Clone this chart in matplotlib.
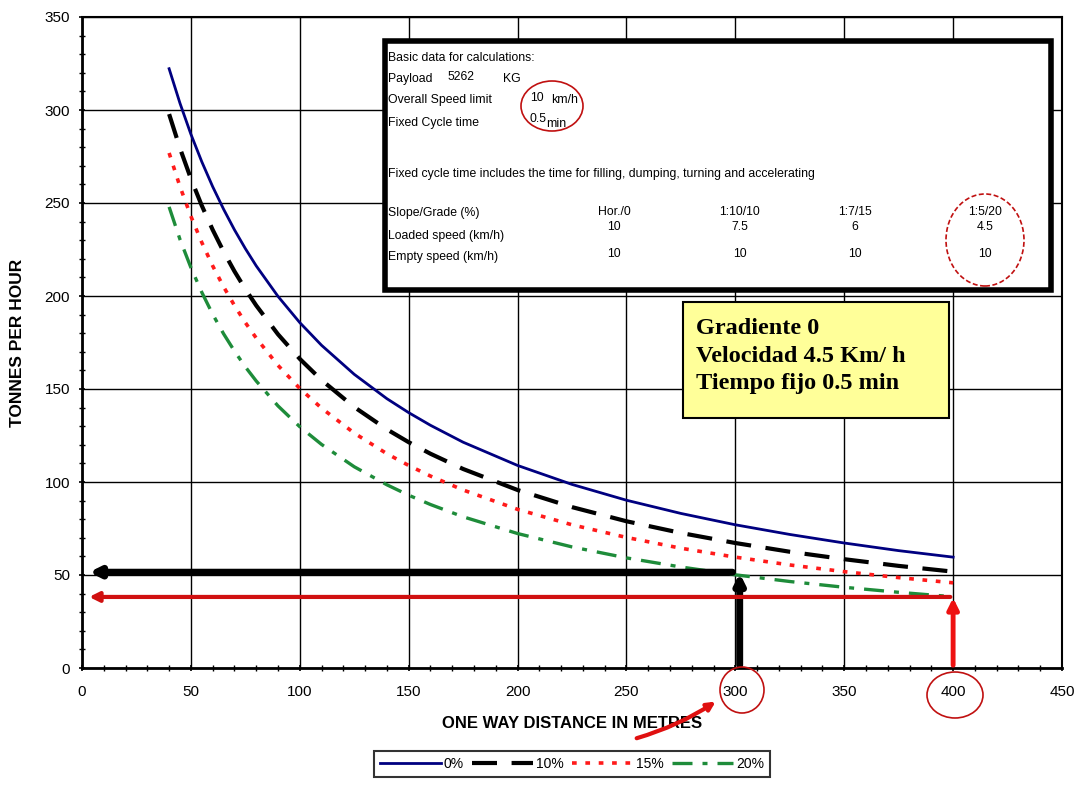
import matplotlib
matplotlib.use("Agg")
import matplotlib.pyplot as plt
from matplotlib.patches import Rectangle, Ellipse, FancyArrowPatch

# ---------------- data ----------------
distance = [40, 45, 50, 55, 60, 65, 70, 75, 80, 90, 100, 110, 125, 140, 150, 160, 175,
            200, 225, 250, 275, 300, 325, 350, 375, 400]
tph_0 = [322.2, 303.6, 287.0, 272.2, 258.8, 246.7, 235.6, 225.5, 216.2, 199.8, 185.7, 173.5,
         157.9, 144.8, 137.3, 130.5, 121.4, 108.9, 98.7, 90.2, 83.1, 77.0, 71.8, 67.2, 63.1, 59.6]
tph_10 = [297.8, 279.4, 263.1, 248.6, 235.6, 223.9, 213.3, 203.7, 194.9, 179.4, 166.2, 154.8,
          140.3, 128.3, 121.4, 115.2, 107.0, 95.7, 86.5, 78.9, 72.6, 67.2, 62.5, 58.5, 54.9, 51.8]
tph_15 = [276.9, 258.8, 242.9, 228.8, 216.2, 205.0, 194.9, 185.7, 177.4, 162.7, 150.3, 139.7,
          126.3, 115.2, 108.9, 103.2, 95.7, 85.3, 77.0, 70.2, 64.4, 59.6, 55.4, 51.8, 48.6, 45.8]
tph_20 = [247.9, 230.4, 215.3, 202.0, 190.2, 179.7, 170.4, 161.9, 154.3, 140.9, 129.7, 120.2,
          108.2, 98.5, 92.9, 87.9, 81.3, 72.3, 65.1, 59.2, 54.3, 50.1, 46.5, 43.4, 40.7, 38.3]
series_labels = ["0%", "10%", "15%", "20%"]

x_ticks = [0, 50, 100, 150, 200, 250, 300, 350, 400, 450]
y_ticks = [0, 50, 100, 150, 200, 250, 300, 350]

# annotation arrows (reading examples)
black_x, black_y = 302, 51.5
red_x, red_y = 400, 38.2

grades = ["Hor./0", "1:10/10", "1:7/15", "1:5/20"]
loaded = ["10", "7.5", "6", "4.5"]
empty = ["10", "10", "10", "10"]
note_lines = ["Gradiente 0", "Velocidad 4.5 Km/ h", "Tiempo fijo 0.5 min"]

W, H = 1085, 785
plt.rcParams['font.family'] = ['Liberation Sans', 'DejaVu Sans']
fig = plt.figure(figsize=(W / 100, H / 100), dpi=100)


def fx(px):
    return px / W


def fy(py):
    return 1 - py / H


ax = fig.add_axes([fx(82), fy(668), fx(1062) - fx(82), fy(17) - fy(668)])
ax.set_xlim(0, 450)
ax.set_ylim(0, 350)
ax.set_xticks(x_ticks)
ax.set_yticks(y_ticks)
ax.set_xticks(range(0, 451, 10), minor=True)
ax.set_yticks(range(0, 351, 10), minor=True)
ax.grid(True, which='major', color='black', lw=1.0)
ax.tick_params(axis='both', which='major', labelsize=11, length=5, width=1.2,
               direction='inout', colors='black')
ax.tick_params(axis='both', which='minor', length=4, width=1.0, direction='inout')
ax.tick_params(axis='x', pad=10)
ax.tick_params(axis='y', pad=6)
for sp in ax.spines.values():
    sp.set_linewidth(1.5)
ax.spines['left'].set_linewidth(2.0)
ax.spines['bottom'].set_linewidth(2.0)

ax.set_ylabel("TONNES PER HOUR", fontsize=12.5, fontweight='bold', labelpad=14)
ax.set_xlabel("ONE WAY DISTANCE IN METRES", fontsize=12, fontweight='bold', labelpad=12)

l0, = ax.plot(distance, tph_0, color='#000080', lw=2.0, label=series_labels[0], zorder=4)
l1, = ax.plot(distance, tph_10, color='black', lw=3.0, dashes=(6, 3.5), label=series_labels[1], zorder=4)
l2, = ax.plot(distance, tph_15, color='#ff1a1a', lw=2.6, dashes=(1.3, 2.4), label=series_labels[2], zorder=4)
l3, = ax.plot(distance, tph_20, color='#1e8c3a', lw=2.4, dashes=(6, 3, 1.5, 3), label=series_labels[3], zorder=4)

# arrows
ax.annotate("", xy=(2, black_y), xytext=(black_x - 2, black_y),
            arrowprops=dict(arrowstyle='-|>', color='black', lw=5, mutation_scale=14), zorder=5)
ax.annotate("", xy=(black_x, black_y + 1), xytext=(black_x, 0),
            arrowprops=dict(arrowstyle='-|>', color='black', lw=5, mutation_scale=14), zorder=5)
ax.annotate("", xy=(2, red_y), xytext=(red_x, red_y),
            arrowprops=dict(arrowstyle='-|>', color='#d01010', lw=3, mutation_scale=14), zorder=5)
ax.annotate("", xy=(red_x, red_y + 1), xytext=(red_x, 0),
            arrowprops=dict(arrowstyle='-|>', color='#ee1111', lw=3.5, mutation_scale=16), zorder=5)

# info box
ax.add_patch(Rectangle((139, 203), 306, 134, facecolor='white', edgecolor='black',
                       lw=4, zorder=6))
tf = fig.transFigure
fs = 8.8


def t(px, py, s, **kw):
    fig.text(fx(px), fy(py), s, fontsize=kw.pop('fontsize', fs), va='center',
             ha=kw.pop('ha', 'left'), zorder=10, **kw)


t(388, 58, "Basic data for calculations:")
t(388, 79, "Payload")
t(447, 77, "5262")
t(503, 79, "KG")
t(388, 100, "Overall Speed limit")
t(530, 98, "10")
t(551, 100, "km/h")
t(388, 123, "Fixed Cycle time")
t(530, 119, "0.5")
t(546, 124, "min")
t(388, 174, "Fixed cycle time includes the time for filling, dumping, turning and accelerating")
t(388, 213, "Slope/Grade (%)")
t(388, 236, "Loaded speed (km/h)")
t(388, 257, "Empty speed (km/h)")
cols_x = [614, 740, 855, 985]
for cx, g, lv, ev in zip(cols_x, grades, loaded, empty):
    t(cx, 212, g, ha='center')
    t(cx, 227, lv, ha='center')
    t(cx, 254, ev, ha='center')

# yellow note box
ax.add_patch(Rectangle((276, 134.5), 122, 62.5, facecolor='#ffff99', edgecolor='black',
                       lw=1.5, zorder=6))
for i, s in enumerate(note_lines):
    fig.text(fx(696), fy(328 + i * 28), s, fontsize=17.5, fontweight='bold',
             family=['Liberation Serif', 'DejaVu Serif'], va='center', ha='left', zorder=10)

# red circles (figure coordinates)
def ell(cxp, cyp, wp, hp, **kw):
    e = Ellipse((fx(cxp), fy(cyp)), wp / W, hp / H, transform=tf, fill=False,
                edgecolor='#c01010', lw=1.2, zorder=11, **kw)
    fig.add_artist(e)


ell(552, 106, 62, 50)
ell(985, 240, 78, 92, linestyle=(0, (3, 1.5)))
ell(742, 690, 44, 46)
ell(955, 695, 56, 46)

arr = FancyArrowPatch((fx(634), fy(739)), (fx(718), fy(700)), transform=tf,
                      arrowstyle='-|>', mutation_scale=12, color='#e01010', lw=3, zorder=11,
                      connectionstyle='arc3,rad=0.08')
fig.add_artist(arr)

# legend
leg = fig.legend(handles=[l0, l1, l2, l3], labels=series_labels, loc='center',
                 bbox_to_anchor=(fx(572), fy(764)), ncol=4, frameon=True, fancybox=False,
                 edgecolor='black', fontsize=10, handlelength=4.4, handletextpad=0.2,
                 columnspacing=0.6, borderpad=0.4)
leg.get_frame().set_linewidth(1.5)

fig.savefig("out.png", dpi=100, facecolor='white')
